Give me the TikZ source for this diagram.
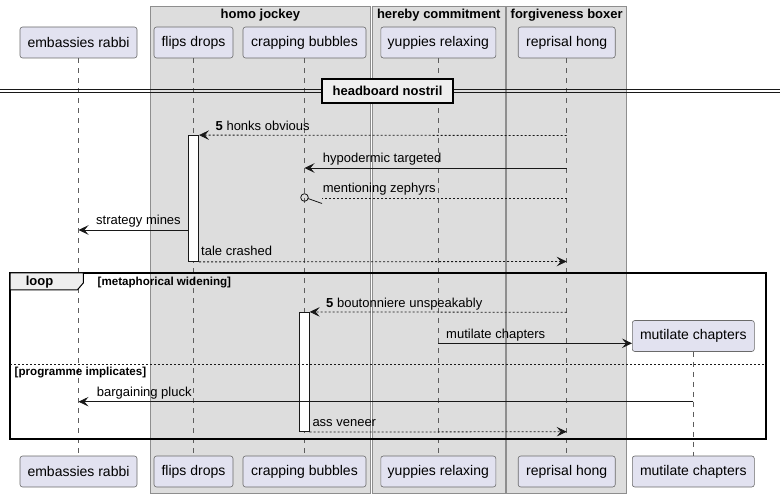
\documentclass[tikz,border=0pt]{standalone}
\usepackage{fontspec}
\setmainfont{Liberation Sans}
\usetikzlibrary{arrows.meta}
\definecolor{partfill}{HTML}{E2E2F0}
\definecolor{partdraw}{HTML}{6A6A6A}
\definecolor{grpfill}{HTML}{DDDDDD}
\definecolor{grpdraw}{HTML}{8E8E8E}
\definecolor{lncol}{HTML}{181818}
\definecolor{tabfill}{HTML}{EEEEEE}
\begin{document}
\begin{tikzpicture}[x=1pt,y=-1pt,
  part/.style={draw=partdraw, fill=partfill, rounded corners=2.5pt, line width=0.6pt,
    minimum height=31pt, inner sep=0pt, font=\fontsize{14}{16}\selectfont},
  grp/.style={draw=grpdraw, fill=grpfill, line width=0.8pt},
  grptitle/.style={font=\fontsize{13}{15}\selectfont\bfseries, inner sep=0pt},
  life/.style={draw=lncol!70, line width=0.5pt, dash pattern=on 5pt off 5pt},
  act/.style={draw=lncol, fill=white, line width=0.8pt},
  msg/.style={draw=lncol, line width=0.8pt, -{Stealth[length=10pt,width=9.5pt,inset=4pt]}},
  ret/.style={msg, dash pattern=on 2pt off 2pt},
  lbl/.style={anchor=base west, inner sep=0pt, font=\fontsize{13}{15}\selectfont},
  guard/.style={anchor=base west, inner sep=0pt, font=\fontsize{11.6}{13}\selectfont\bfseries}]
\useasboundingbox (0,0) rectangle (780,497);
% groups
\draw[grp] (150,6) rectangle (370.7,493);
\draw[grp] (372.7,6) rectangle (505,493);
\draw[grp] (506.7,6) rectangle (626.7,493);
\node[grptitle] (g1) at (260.4,15.5) {homo jockey};
\node[grptitle] (g2) at (438.8,15.5) {hereby commitment};
\node[grptitle] (g3) at (566.7,15.5) {forgiveness boxer};
% participants top
\node[part, minimum width=117pt] (er) at (78.5,42.5) {embassies rabbi};
\node[part, minimum width=79pt] (fd) at (193.5,42.5) {flips drops};
\node[part, minimum width=123pt] (cb) at (304.5,42.5) {crapping bubbles};
\node[part, minimum width=115pt] (yr) at (438.3,42.5) {yuppies relaxing};
\node[part, minimum width=97pt] (rh) at (566.7,42.5) {reprisal hong};
\node[part, minimum width=122pt] (mc) at (693.3,336) {mutilate chapters};
% participants bottom
\node[part, minimum width=117pt] (er2) at (78.5,471.5) {embassies rabbi};
\node[part, minimum width=79pt] (fd2) at (193.5,471.5) {flips drops};
\node[part, minimum width=123pt] (cb2) at (304.5,471.5) {crapping bubbles};
\node[part, minimum width=115pt] (yr2) at (438.3,471.5) {yuppies relaxing};
\node[part, minimum width=97pt] (rh2) at (566.7,471.5) {reprisal hong};
\node[part, minimum width=122pt] (mc2) at (693.3,471.5) {mutilate chapters};
% lifelines
\draw[life] (er) -- (er2);
\draw[life] (fd) -- (fd2);
\draw[life] (cb) -- (cb2);
\draw[life] (yr) -- (yr2);
\draw[life] (rh) -- (rh2);
\draw[life] (mc) -- (mc2);
% divider
\draw[lncol, line width=0.8pt] (0,89.5) -- (780,89.5);
\draw[lncol, line width=0.8pt] (0,92.5) -- (780,92.5);
\node[draw=black, fill=tabfill, line width=1.5pt, minimum width=131pt, minimum height=24pt, inner sep=0pt,
  font=\fontsize{13}{15}\selectfont\bfseries] (div) at (387.5,91) {headboard nostril};
% activations
\node[act, minimum width=10pt, minimum height=126pt, inner sep=0pt] (a1) at (193.6,198.5) {};
\node[act, minimum width=9.6pt, minimum height=119.4pt, inner sep=0pt] (a2) at (304.5,372) {};
% coordinates
\coordinate (rh1) at (566.7,135.5);
\coordinate (rh2c) at (566.7,168);
\coordinate (rh3) at (566.7,198);
\coordinate (cb2c) at (304.5,168);
\coordinate (mz) at (322,198);
\coordinate (er1) at (78.5,230);
\coordinate (rh4) at (566.7,261.5);
\coordinate (rh5) at (566.7,312.3);
\coordinate (yr1) at (438.3,343.3);
\coordinate (mc1) at (693.3,401.7);
\coordinate (er3) at (78.5,401.7);
\coordinate (rh6) at (566.7,431.7);
% messages
\draw[ret] (rh1) -- (a1.north east);
\node[lbl] (l1) at (215.5,131) {\textbf{5} honks obvious};
\draw[msg] (rh2c) -- (cb2c);
\node[lbl] (l2) at (322.7,163) {hypodermic targeted};
\draw[lncol, line width=0.8pt, dash pattern=on 2pt off 2pt] (rh3) -- (mz);
\draw[lncol, line width=0.8pt] (308,198.5) -- (322,203.5);
\draw[lncol, line width=0.8pt] (304.5,197.5) circle[radius=3.8pt];
\node[lbl] (l3) at (322.7,193) {mentioning zephyrs};
\draw[msg] (a1.west |- er1) -- (er1);
\node[lbl] (l4) at (96,225) {strategy mines};
\draw[ret] (a1.south east) -- (rh4);
\node[lbl] (l5) at (201,256) {tale crashed};
% loop frame
\draw[black, line width=1.5pt] (10,273) rectangle (766,439);
\draw[black, fill=tabfill, line width=1pt] (10,273) -- (83.3,273) -- (83.3,283) -- (77.3,290) -- (10,290) -- cycle;
\node[inner sep=0pt, font=\fontsize{13}{15}\selectfont\bfseries] (lp) at (39.5,282) {loop};
\node[guard] (gd1) at (97.5,285.5) {[metaphorical widening]};
\draw[lncol, line width=0.8pt, dash pattern=on 2pt off 2pt] (10,364.3) -- (766,364.3);
\node[guard] (gd2) at (14.5,376) {[programme implicates]};
% loop messages
\draw[ret] (rh5) -- (a2.north east);
\node[lbl] (l6) at (326,307.3) {\textbf{5} boutonniere unspeakably};
\draw[msg] (yr1) -- (mc.west |- yr1);
\node[lbl] (l7) at (446,338.3) {mutilate chapters};
\draw[msg] (mc1) -- (er3);
\node[lbl] (l8) at (96.7,396.7) {bargaining pluck};
\draw[ret] (a2.south east) -- (rh6);
\node[lbl] (l9) at (312.3,426.7) {ass veneer};
\end{tikzpicture}
\end{document}
